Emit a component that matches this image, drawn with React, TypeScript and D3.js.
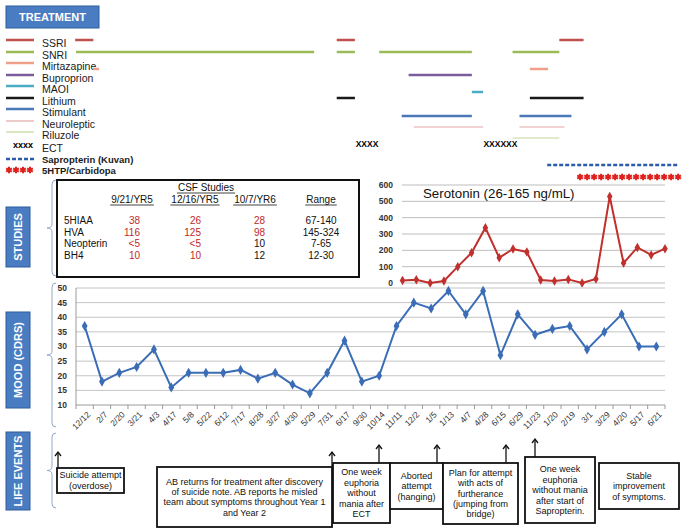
import React, { useEffect, useRef } from 'react';
import * as d3 from 'd3';

// ---- data ----
const moodDates = ["12/12", "2/7", "2/20", "3/21", "4/3", "4/17", "5/8", "5/22", "6/12", "7/17", "8/28", "3/27", "4/30", "5/29", "7/31", "6/17", "9/30", "10/14", "11/11", "12/2", "1/5", "1/13", "4/7", "4/28", "6/15", "6/29", "11/23", "1/20", "2/19", "3/1", "3/29", "4/20", "5/17", "6/21"];
const moodScores = [37, 18, 21, 23, 29, 16, 21, 21, 21, 22, 19, 21, 17, 14, 21, 32, 18, 20, 37, 45, 43, 49, 41, 49, 27, 41, 34, 36, 37, 29, 35, 41, 30, 30];
const moodTicks = [10, 15, 20, 25, 30, 35, 40, 45, 50];

const serotoninValues = [15, 20, 0, 12, 100, 185, 338, 155, 208, 190, 18, 12, 22, 0, 25, 530, 122, 218, 172, 210];
const serotoninTicks = [0, 100, 200, 300, 400, 500, 600];

const treatmentNames = ["SSRI", "SNRI", "Mirtazapine", "Buproprion", "MAOI", "Lithium", "Stimulant", "Neuroleptic", "Riluzole", "ECT", "Sapropterin (Kuvan)", "5HTP/Carbidopa"];
// periods in units of the mood timeline (visit index)
const treatmentPeriods: [string, number, number][] = [
  ["SSRI", -0.05, 1.0], ["SSRI", 15.05, 16.1], ["SSRI", 27.9, 29.3],
  ["SNRI", 0, 13.75], ["SNRI", 15.05, 16.1], ["SNRI", 17.5, 22.85], ["SNRI", 25.2, 27.9],
  ["Mirtazapine", 0.98, 1.33], ["Mirtazapine", 26.2, 27.25],
  ["Buproprion", 19.2, 22.85],
  ["MAOI", 22.85, 23.5],
  ["Lithium", 15.05, 16.1], ["Lithium", 26.2, 29.3],
  ["Stimulant", 18.8, 22.85], ["Stimulant", 25.6, 28.6],
  ["Neuroleptic", 19.5, 23.5], ["Neuroleptic", 25.6, 28.2],
  ["Riluzole", 25.2, 27.9],
  ["ECT", 16.2, 17.4], ["ECT", 23.6, 25.4],
  ["Sapropterin (Kuvan)", 27.2, 34.8],
  ["5HTP/Carbidopa", 29.1, 34.8],
];

const csfDates = ["9/21/YR5", "12/16/YR5", "10/7/YR6"];
const csfAnalytes = ["5HIAA", "HVA", "Neopterin", "BH4"];
const csfValues = [
  ["38", "26", "28"],
  ["116", "125", "98"],
  ["<5", "<5", "10"],
  ["10", "10", "12"],
];
const csfRanges = ["67-140", "145-324", "7-65", "12-30"];

const lifeEvents = [
  ["Suicide attempt", "(overdose)"],
  ["AB returns for treatment after discovery", "of suicide note.  AB reports he misled", "team about symptoms throughout Year 1", "and Year 2"],
  ["One week", "euphoria", "without", "mania after", "ECT"],
  ["Aborted", "attempt", "(hanging)"],
  ["Plan for attempt", "with acts of", "furtherance", "(jumping from", "bridge)"],
  ["One week", "euphoria", "without mania", "after start of", "Sapropterin."],
  ["Stable", "improvement", "of symptoms."],
];

// ---- styles / layout ----
const FONT = "'Liberation Sans', Arial, sans-serif";
const treatColors: Record<string, string> = {
  "SSRI": "#c0504d", "SNRI": "#9bbb59", "Mirtazapine": "#f0a088", "Buproprion": "#7a5c9a",
  "MAOI": "#4bacc6", "Lithium": "#1a1a1a", "Stimulant": "#4a78b8", "Neuroleptic": "#e3a8a8",
  "Riluzole": "#c3d69b", "ECT": "#000", "Sapropterin (Kuvan)": "#2a5caa", "5HTP/Carbidopa": "#e0201c",
};
const treatWidth: Record<string, number> = { "Neuroleptic": 1.2, "Riluzole": 1.2 };
const legendY = [40, 52, 63, 75, 86, 98, 109, 121, 132, 145, 159, 170];
const legendTextY = [47, 59, 70, 82, 93, 105, 116, 128, 139, 151.5, 162.5, 173.5];
const barY = [40, 52, 69, 75, 92, 98, 116, 127, 138, 144, 165, 177];
const eventLayout = [
  { x: 57, y: 468, w: 67, h: 25, ax: 58, top: 452 },
  { x: 157, y: 467, w: 175, h: 60, ax: 332, top: 452 },
  { x: 333, y: 463, w: 57, h: 60, ax: 379, top: 445 },
  { x: 390, y: 463, w: 53, h: 46, ax: 437, top: 445 },
  { x: 443, y: 463, w: 75, h: 61, ax: 506, top: 445 },
  { x: 525, y: 457, w: 70, h: 66, ax: 535, top: 439 },
  { x: 599, y: 463, w: 80, h: 46, ax: null, top: 0 },
];

const App = () => {
  const svgRef = useRef<SVGSVGElement | null>(null);

  useEffect(() => {
    document.body.style.margin = "0";
    if (!svgRef.current) return;
    const svg = d3.select(svgRef.current);
    svg.selectAll("*").remove();
    svg.attr("width", 685).attr("height", 530).style("background", "#fff").style("font-family", FONT);

    // ---------- section labels ----------
    const labelBox = (x: number, y: number, w: number, h: number, text: string, vertical: boolean) => {
      svg.append("rect").attr("x", x).attr("y", y).attr("width", w).attr("height", h)
        .attr("fill", "#4a7cc2").attr("stroke", "#2e5c9e").attr("stroke-width", 1);
      const t = svg.append("text")
        .attr("fill", "#fff").style("font-size", "11px").style("font-weight", "bold")
        .attr("text-anchor", "middle").attr("dy", "0.36em").text(text);
      if (vertical) t.attr("transform", `translate(${x + w / 2},${y + h / 2}) rotate(-90)`);
      else t.attr("x", x + w / 2).attr("y", y + h / 2);
    };
    labelBox(6, 6, 93, 22, "TREATMENT", false);
    labelBox(6, 207, 24, 60, "STUDIES", true);
    labelBox(6, 312, 24, 96, "MOOD (CDRS)", true);
    labelBox(6, 432, 24, 78, "LIFE  EVENTS", true);

    const brace = (x: number, y1: number, y2: number) => {
      const ym = (y1 + y2) / 2;
      svg.append("path")
        .attr("d", `M${x + 4},${y1} Q${x},${y1} ${x},${y1 + 4} L${x},${ym - 4} Q${x},${ym} ${x - 5},${ym} Q${x},${ym} ${x},${ym + 4} L${x},${y2 - 4} Q${x},${y2} ${x + 4},${y2}`)
        .attr("fill", "none").attr("stroke", "#93a9c6").attr("stroke-width", 1);
    };
    brace(52, 180, 276);
    brace(52, 283, 427);
    brace(52, 433, 508);

    // ---------- timeline scale (mood visits) ----------
    const x = d3.scaleBand<string>().domain(moodDates).range([76, 665]);
    const bw = x.bandwidth();
    const tl = d3.scaleLinear().domain([0, moodDates.length]).range([76, 665]);

    const asterisk = (cx: number, cy: number, c: string) =>
      svg.append("path").attr("d", d3.symbol().type(d3.symbolAsterisk).size(30)())
        .attr("transform", `translate(${cx},${cy})`).attr("stroke", c).attr("stroke-width", 2);

    // ---------- treatment legend ----------
    treatmentNames.forEach((name, i) => {
      const y = legendY[i];
      const c = treatColors[name];
      if (name === "ECT") {
        svg.append("text").attr("x", 13).attr("y", y + 3).style("font-size", "9px").style("font-weight", "bold").text("xxxx");
      } else if (name === "5HTP/Carbidopa") {
        d3.range(4).forEach(k => asterisk(9 + k * 7, y, c));
      } else {
        svg.append("line").attr("x1", 6).attr("x2", 34).attr("y1", y).attr("y2", y)
          .attr("stroke", c).attr("stroke-width", treatWidth[name] ?? 2.5)
          .attr("stroke-dasharray", name.startsWith("Sapropterin") ? "4,2" : null);
      }
      svg.append("text").attr("x", 42).attr("y", legendTextY[i])
        .style("font-size", i >= 10 ? "9.5px" : "10.5px").style("font-weight", i >= 10 ? "bold" : "normal")
        .attr("fill", "#1a1a1a").text(name);
    });

    // ---------- treatment bars ----------
    treatmentPeriods.forEach(([name, s, e]) => {
      const i = treatmentNames.indexOf(name);
      const y = barY[i];
      const c = treatColors[name];
      const x1 = tl(s), x2 = tl(e);
      if (name === "ECT") {
        const n = Math.round((x2 - x1) / 5.2);
        svg.append("text").attr("x", (x1 + x2) / 2).attr("y", y + 3).attr("text-anchor", "middle")
          .style("font-size", "8.5px").style("font-weight", "bold").text("X".repeat(n));
      } else if (name === "5HTP/Carbidopa") {
        const n = Math.floor((x2 - x1) / 7) + 1;
        d3.range(n).forEach(k => asterisk(x1 + k * 7, y, c));
      } else {
        svg.append("line").attr("x1", x1).attr("x2", x2).attr("y1", y).attr("y2", y)
          .attr("stroke", c).attr("stroke-width", treatWidth[name] ?? 2.5)
          .attr("stroke-dasharray", name.startsWith("Sapropterin") ? "4,2" : null);
      }
    });

    // ---------- CSF table ----------
    svg.append("rect").attr("x", 57).attr("y", 180).attr("width", 302).attr("height", 97)
      .attr("fill", "none").attr("stroke", "#111").attr("stroke-width", 2);
    const underlined = (tx: number, ty: number, text: string) => {
      const t = svg.append("text").attr("x", tx).attr("y", ty).attr("text-anchor", "middle")
        .style("font-size", "10px").attr("fill", "#111").text(text);
      const w = (t.node() as SVGTextElement).getComputedTextLength();
      svg.append("line").attr("x1", tx - w / 2 - 1).attr("x2", tx + w / 2 + 1).attr("y1", ty + 2).attr("y2", ty + 2)
        .attr("stroke", "#111").attr("stroke-width", 0.8);
    };
    underlined(206, 191, "CSF Studies");
    const colRight = [140, 201, 265];
    const colHead = [132, 195, 255];
    csfDates.forEach((d, j) => underlined(colHead[j], 203, d));
    underlined(321, 203, "Range");
    const rowY = d3.scalePoint<string>().domain(csfAnalytes).range([224, 259]);
    csfAnalytes.forEach((a, i) => {
      const y = rowY(a)!;
      svg.append("text").attr("x", 64).attr("y", y).style("font-size", "10px").attr("fill", "#111").text(a);
      const low = +csfRanges[i].split("-")[0];
      csfValues[i].forEach((v, j) => {
        const num = v.startsWith("<") ? +v.slice(1) - 0.01 : +v;
        svg.append("text").attr("x", colRight[j]).attr("y", y).attr("text-anchor", "end")
          .style("font-size", "10px").attr("fill", num < low ? "#c0282a" : "#111").text(v);
      });
      svg.append("text").attr("x", 321).attr("y", y).attr("text-anchor", "middle")
        .style("font-size", "10px").attr("fill", "#111").text(csfRanges[i]);
    });

    // ---------- serotonin chart ----------
    const sx = d3.scalePoint<number>().domain(d3.range(serotoninValues.length)).range([402.5, 665]);
    const sy = d3.scaleLinear().domain([0, 600]).range([283, 185]);
    serotoninTicks.forEach(t => {
      svg.append("line").attr("x1", 402).attr("x2", 665).attr("y1", sy(t)).attr("y2", sy(t))
        .attr("stroke", "#bdbdbd").attr("stroke-width", 1);
      svg.append("text").attr("x", 393).attr("y", sy(t)).attr("dy", "0.35em").attr("text-anchor", "end")
        .style("font-size", "8.5px").style("font-weight", "bold").attr("fill", "#333").text(t);
    });
    svg.append("text").attr("x", 423).attr("y", 198).style("font-size", "13.3px").attr("fill", "#111")
      .text("Serotonin (26-165 ng/mL)");
    const sLine = d3.line<number>().x((_, i) => sx(i)!).y(d => sy(d));
    svg.append("path").datum(serotoninValues).attr("d", sLine).attr("fill", "none")
      .attr("stroke", "#c0302c").attr("stroke-width", 2);
    serotoninValues.forEach((v, i) => {
      svg.append("path").attr("d", d3.symbol().type(d3.symbolDiamond).size(26)())
        .attr("transform", `translate(${sx(i)},${sy(v)})`).attr("fill", "#c0302c");
    });

    // ---------- mood chart ----------
    const y = d3.scaleLinear().domain([10, 50]).range([405, 288]);
    moodTicks.forEach(t => {
      svg.append("line").attr("x1", 76).attr("x2", 665).attr("y1", y(t)).attr("y2", y(t))
        .attr("stroke", t === 10 ? "#9a9a9a" : "#c4c4c4").attr("stroke-width", 1);
      svg.append("text").attr("x", 67).attr("y", y(t)).attr("dy", "0.35em").attr("text-anchor", "end")
        .style("font-size", "8.5px").style("font-weight", "bold").attr("fill", "#333").text(t);
    });
    svg.append("line").attr("x1", 76).attr("x2", 76).attr("y1", 288).attr("y2", 405)
      .attr("stroke", "#9a9a9a").attr("stroke-width", 1);
    d3.range(moodDates.length + 1).forEach(k => {
      svg.append("line").attr("x1", 76 + k * bw).attr("x2", 76 + k * bw).attr("y1", 405).attr("y2", 409)
        .attr("stroke", "#9a9a9a").attr("stroke-width", 1);
    });
    moodDates.forEach(d => {
      const cx = x(d)! + bw / 2;
      svg.append("text").attr("text-anchor", "end").attr("dy", "0.35em")
        .attr("transform", `translate(${cx + 4},${413}) rotate(-45)`)
        .style("font-size", "8.5px").attr("fill", "#333").text(d);
    });
    const mLine = d3.line<number>().x((_, i) => x(moodDates[i])! + bw / 2).y(d => y(d));
    svg.append("path").datum(moodScores).attr("d", mLine).attr("fill", "none")
      .attr("stroke", "#3a6db5").attr("stroke-width", 2);
    moodScores.forEach((v, i) => {
      svg.append("path").attr("d", d3.symbol().type(d3.symbolDiamond).size(30)())
        .attr("transform", `translate(${x(moodDates[i])! + bw / 2},${y(v)})`).attr("fill", "#3a6db5");
    });

    // ---------- life events ----------
    lifeEvents.forEach((lines, i) => {
      const b = eventLayout[i];
      if (b.ax !== null) {
        svg.append("line").attr("x1", b.ax).attr("x2", b.ax).attr("y1", b.y).attr("y2", b.top)
          .attr("stroke", "#111").attr("stroke-width", 1.3);
        svg.append("path").attr("d", `M${b.ax - 3},${b.top + 4} L${b.ax},${b.top} L${b.ax + 3},${b.top + 4}`)
          .attr("fill", "none").attr("stroke", "#111").attr("stroke-width", 1.3);
      }
      svg.append("rect").attr("x", b.x).attr("y", b.y).attr("width", b.w).attr("height", b.h)
        .attr("fill", "#fff").attr("stroke", "#111").attr("stroke-width", 1.8);
      const lh = 10.4;
      const y0 = b.y + b.h / 2 - ((lines.length - 1) * lh) / 2;
      lines.forEach((ln, k) => {
        svg.append("text").attr("x", b.x + b.w / 2).attr("y", y0 + k * lh).attr("dy", "0.35em")
          .attr("text-anchor", "middle").style("font-size", "9px").attr("fill", "#111").text(ln);
      });
    });
  }, []);

  return (
    <div>
      <svg ref={svgRef}></svg>
    </div>
  );
};

export default App;
